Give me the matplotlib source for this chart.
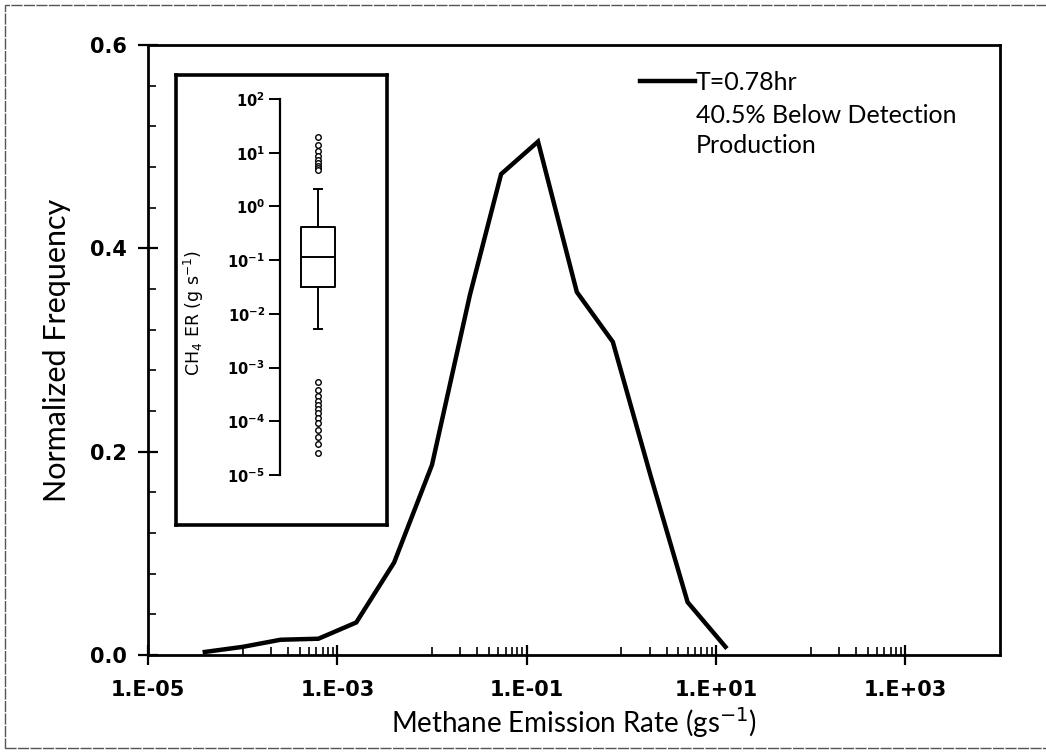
import numpy as np
import matplotlib.pyplot as plt
from matplotlib.ticker import FixedLocator, FuncFormatter, MultipleLocator, NullFormatter
from matplotlib.patches import Rectangle

# emission rate distribution (bin centres in gs-1, normalized frequency)
rate_log10 = [-4.40, -4.00, -3.60, -3.20, -2.80, -2.40, -2.00, -1.60, -1.27,
              -0.88, -0.47, -0.09, 0.31, 0.70, 1.10]
norm_freq = [0.003, 0.008, 0.015, 0.016, 0.032, 0.091, 0.187, 0.354, 0.473,
             0.505, 0.357, 0.308, 0.176, 0.052, 0.008]
series_label = 'T=0.78hr'
note_lines = ['40.5% Below Detection', 'Production']

# box plot summary of CH4 emission rates (g s-1)
box_stats = dict(med=0.115, q1=0.032, q3=0.42, whislo=0.0052, whishi=2.1)
outliers_high = [19.6, 13.8, 10.7, 8.7, 7.3, 6.4, 5.6, 5.2, 4.8]
outliers_low = [5.4e-4, 3.8e-4, 2.9e-4, 2.4e-4, 2.0e-4, 1.7e-4, 1.4e-4,
                1.15e-4, 9.3e-5, 6.9e-5, 5.1e-5, 3.8e-5, 2.6e-5]

x_major = [1e-5, 1e-3, 1e-1, 1e1, 1e3]
y_major = [0.0, 0.2, 0.4, 0.6]

W, H = 1046, 753
fig = plt.figure(figsize=(W / 100, H / 100), dpi=100)

def px_box(x0, y0, x1, y1):
    return [x0 / W, 1 - y1 / H, (x1 - x0) / W, (y1 - y0) / H]

# thin frame around the chart area
fig.patches.append(Rectangle((5 / W, 5 / H), 1.2, 1 - 10 / H, transform=fig.transFigure,
                             fill=False, lw=1.0, ec='#555555', ls=(0, (8, 1))))

label_font = ['Lato', 'DejaVu Sans']

ax = fig.add_axes(px_box(148, 45, 1000, 655))
x = 10.0 ** np.array(rate_log10)
line, = ax.plot(x, norm_freq, color='black', lw=3.2, solid_joinstyle='miter')
ax.set_xscale('log')
ax.set_xlim(1e-5, 1e4)
ax.set_ylim(0, 0.6)

ax.xaxis.set_major_locator(FixedLocator(x_major))
ax.xaxis.set_major_formatter(FuncFormatter(lambda v, p: '1.E{:+03d}'.format(int(round(np.log10(v))))))
minor_x = [k * 10.0 ** n for n in (-4, -2, 0, 2) for k in range(1, 10)]
ax.xaxis.set_minor_locator(FixedLocator(minor_x))
ax.xaxis.set_minor_formatter(NullFormatter())
ax.yaxis.set_major_locator(FixedLocator(y_major))
ax.yaxis.set_major_formatter(FuncFormatter(lambda v, p: '{:.1f}'.format(v)))
ax.yaxis.set_minor_locator(MultipleLocator(0.04))

ax.tick_params(which='major', direction='inout', length=14, width=1.6, pad=8)
ax.tick_params(which='minor', direction='in', length=6, width=1.2)
ax.tick_params(axis='x', which='major', pad=11)
for lab in ax.get_xticklabels() + ax.get_yticklabels():
    lab.set_fontfamily('DejaVu Sans')
    lab.set_fontweight('bold')
    lab.set_fontsize(15)
for s in ax.spines.values():
    s.set_linewidth(2.0)

ax.set_xlabel('Methane Emission Rate (gs$^{-1}$)', family=label_font, fontsize=20, labelpad=4)
ax.set_ylabel('Normalized Frequency', family=label_font, fontsize=22, labelpad=14)

leg = ax.legend([line], [series_label], loc='center left', bbox_to_anchor=(0.578, 0.939),
                frameon=False, handlelength=2.2, handletextpad=0.0, borderpad=0,
                borderaxespad=0, prop={'family': label_font, 'size': 18})
for i, txt in enumerate(note_lines):
    ax.text(0.643, 0.885 - i * 0.049, txt, transform=ax.transAxes, family=label_font,
            fontsize=18, va='center', ha='left')

# inset frame
frame = fig.add_axes(px_box(176, 75, 387, 525))
frame.set_xticks([])
frame.set_yticks([])
for s in frame.spines.values():
    s.set_linewidth(2.6)
frame.patch.set_facecolor('white')

# inset box plot on a log axis
bx = fig.add_axes(px_box(280, 99, 356, 475))
stats = dict(box_stats, fliers=outliers_high + outliers_low)
bx.bxp([stats], positions=[1], widths=0.9, capwidths=0.2, showfliers=True,
       boxprops=dict(color='black', lw=1.4), medianprops=dict(color='black', lw=1.4),
       whiskerprops=dict(color='black', lw=1.4), capprops=dict(color='black', lw=1.4),
       flierprops=dict(marker='o', markersize=4, markerfacecolor='white',
                       markeredgecolor='black', markeredgewidth=1.0))
bx.set_yscale('log')
bx.set_ylim(1e-5, 1e2)
bx.set_xlim(0, 2)
bx.set_yticks([10.0 ** n for n in range(-5, 3)])
bx.yaxis.set_minor_locator(FixedLocator([]))
bx.set_xticks([])
for side in ('top', 'right', 'bottom'):
    bx.spines[side].set_visible(False)
bx.spines['left'].set_linewidth(1.6)
bx.patch.set_alpha(0)
bx.tick_params(axis='y', direction='out', length=8, width=1.4, pad=3)
for lab in bx.get_yticklabels():
    lab.set_fontfamily('DejaVu Sans')
    lab.set_fontweight('bold')
    lab.set_fontsize(10.5)
bx.set_ylabel('CH$_4$ ER (g s$^{-1}$)', family=['DejaVu Sans'], fontsize=12.5)
bx.yaxis.set_label_coords(-0.97, 0.43)

fig.savefig('out.png', dpi=100)
